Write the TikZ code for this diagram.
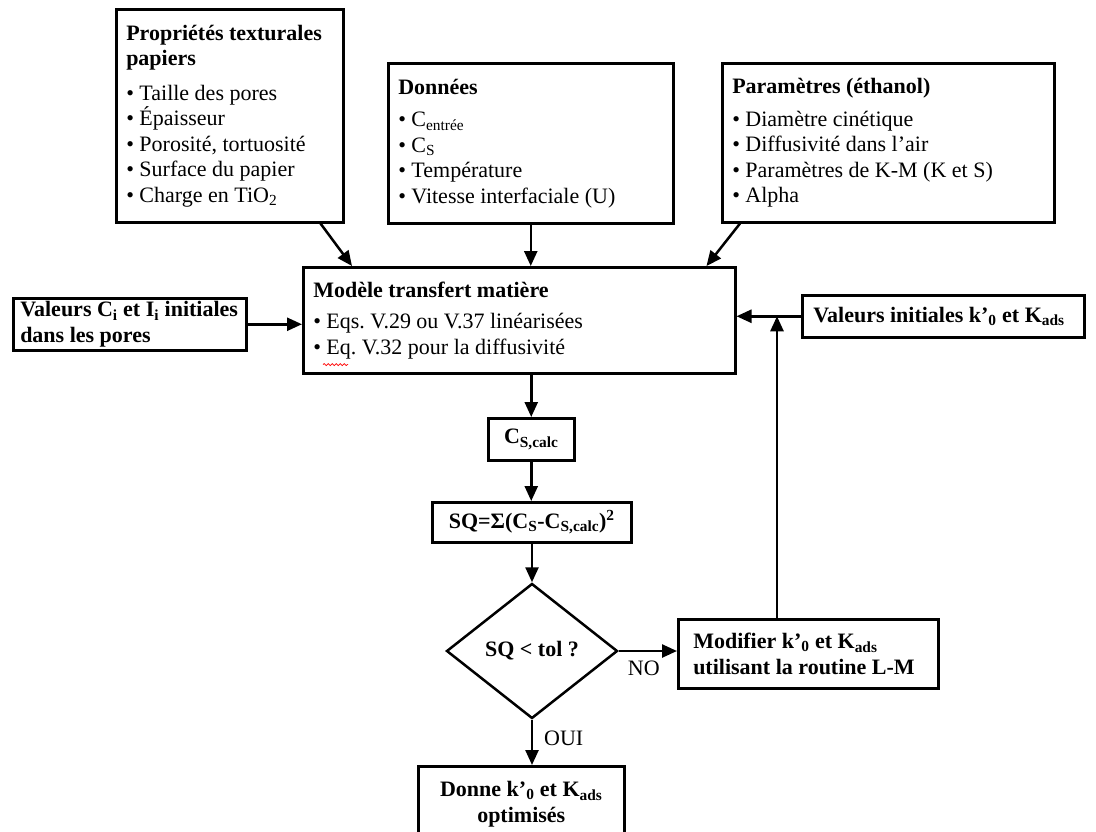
\documentclass[tikz,border=0pt]{standalone}
\usepackage{fontspec}
\setmainfont{Liberation Serif}
\usetikzlibrary{arrows.meta,shapes.geometric,decorations.pathmorphing}
\newcommand{\bfs}{\fontsize{22}{25.5}\selectfont\frenchspacing}
\begin{document}
\begin{tikzpicture}[x=1pt,y=-1pt,
  box/.style={draw, line width=2.5pt, rectangle, inner sep=0pt, font=\bfs, anchor=north west},
  arr/.style={line width=2.5pt, -{Triangle[length=15pt,width=13pt]}},
  lbl/.style={font=\bfs, inner sep=0pt}]
\useasboundingbox (0,0) rectangle (1096,831);

\node[box, minimum width=227pt, minimum height=213pt, text width=207pt, align=flush left] (b1) at (115,8)
 {\textbf{Propriétés texturales}\\ \textbf{papiers}\\[9pt]
  • Taille des pores\\ • Épaisseur\\ • Porosité, tortuosité\\ • Surface du papier\\ • Charge en TiO\textsubscript{2}};

\node[box, minimum width=285pt, minimum height=160pt, text width=265pt, align=flush left] (b2) at (387,62)
 {\textbf{Données}\\[7pt]
  • C\textsubscript{entrée}\\ • C\textsubscript{S}\\ • Température\\ • Vitesse interfaciale (U)};

\node[box, minimum width=332pt, minimum height=159pt, text width=312pt, align=flush left] (b3) at (721,62)
 {\textbf{Paramètres (éthanol)}\\[7pt]
  • Diamètre cinétique\\ • Diffusivité dans l’air\\ • Paramètres de K-M (K et S)\\ • Alpha};

\node[box, minimum width=432pt, minimum height=106pt, text width=412pt, align=flush left] (model) at (302,266)
 {\textbf{Modèle transfert matière}\\[6pt]
  • Eqs. V.29 ou V.37 linéarisées\\ • Eq. V.32 pour la diffusivité};

\node[box, minimum width=233pt, minimum height=52pt, text width=219pt, align=flush left] (vci) at (12,297)
 {\textbf{Valeurs C\textsubscript{i} et I\textsubscript{i} initiales}\\ \textbf{dans les pores}};

\node[box, minimum width=282pt, minimum height=42pt, text width=260pt, align=flush left] (vk) at (801,294)
 {\textbf{Valeurs initiales k’\textsubscript{0} et K\textsubscript{ads}}};

\node[box, minimum width=86pt, minimum height=42pt, align=center] (cs) at (487,417)
 {\textbf{C\textsubscript{S,calc}}};

\node[box, minimum width=199pt, minimum height=40pt, align=center] (sq) at (431,501)
 {\textbf{SQ=Σ(C\textsubscript{S}-C\textsubscript{S,calc})\textsuperscript{2}}};

\node[draw, line width=2.5pt, diamond, inner sep=0pt, minimum width=171pt, minimum height=135pt, font=\bfs] (dia) at (532,651)
 {\textbf{SQ < tol ?}};

\node[box, minimum width=260pt, minimum height=69pt, text width=230pt, align=flush left] (mod) at (677,618)
 {\textbf{Modifier k’\textsubscript{0} et K\textsubscript{ads}}\\ \textbf{utilisant la routine L-M}};

\node[box, minimum width=206pt, minimum height=76pt, align=center] (don) at (417,765)
 {\textbf{Donne k’\textsubscript{0} et K\textsubscript{ads}}\\ \textbf{optimisés}};

\draw[arr] ([xshift=-24pt]b1.south east) -- ([xshift=50pt]model.north west);
\draw[arr] (b2.south) -- (b2.south |- model.north);
\draw[arr] ([xshift=19pt]b3.south west) -- ([xshift=-30pt]model.north east);
\draw[arr] (vci.east) -- (vci.east -| model.west);
\draw[arr] (vk.west) -- (vk.west -| model.east);
\draw[arr] ([xshift=100pt]mod.north west) -- ([xshift=100pt]mod.north west |- vk.west);
\draw[arr] (model.south -| cs.north) -- (cs.north);
\draw[arr] (cs.south) -- (cs.south |- sq.north);
\draw[arr] (sq.south -| dia.north) -- (dia.north);
\draw[arr] (dia.east) -- (dia.east -| mod.west);
\draw[arr] (dia.south) -- (dia.south |- don.north);

\node[lbl, anchor=north west] (no) at ([xshift=9pt,yshift=-10pt]dia.east) {NO};
\node[lbl, anchor=west] (oui) at ([xshift=12pt,yshift=-19pt]dia.south) {OUI};

\draw[red, line width=0.7pt, decorate, decoration={snake, amplitude=1pt, segment length=4pt}]
  ([xshift=21pt,yshift=10pt]model.south west) -- ([xshift=46pt,yshift=10pt]model.south west);
\end{tikzpicture}
\end{document}
